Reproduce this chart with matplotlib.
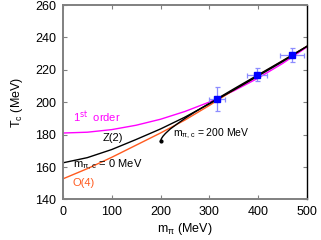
import matplotlib
matplotlib.use("Agg")
import matplotlib.pyplot as plt

plt.rcParams['font.family'] = ['Liberation Sans', 'DejaVu Sans']
plt.rcParams['mathtext.default'] = 'regular'

# lattice points: pion mass, Tc and their errors (MeV)
m_pi = [316, 398, 470]
tc = [202.0, 217.0, 229.0]
m_err = [17, 20, 25]
tc_err = [7.3, 4.0, 4.3]

# fit curves
m_grid = [0, 50, 100, 150, 200, 250, 300, 350, 400, 450, 500]
tc_first = [181.0, 181.5, 183.1, 185.8, 189.5, 194.3, 200.1, 207.0, 214.9, 223.9, 234.0]
tc_z2 = [162.6, 165.8, 170.8, 177.0, 183.5, 190.8, 199.0, 207.5, 216.2, 225.0, 234.5]
tc_o4 = [152.7, 159.0, 166.0, 173.5, 181.0, 189.0, 198.0, 207.5, 216.5, 225.5, 234.5]

m_c200 = [200, 202, 205, 210, 220, 235, 250, 270, 300, 350, 400, 450, 500]
tc_c200 = [176.0, 177.6, 179.0, 180.7, 183.5, 186.8, 190.0, 193.9, 199.3, 208.2, 216.9, 225.6, 234.5]

fig = plt.figure(figsize=(3.21, 2.40), dpi=100)
ax = fig.add_axes([0.196, 0.169, 0.760, 0.810])

ax.plot(m_grid, tc_first, color='#ff00ff', lw=1.0)
ax.plot(m_grid, tc_o4, color='#ff5a1e', lw=1.0)
ax.plot(m_grid, tc_z2, color='black', lw=1.0)
ax.plot(m_c200, tc_c200, color='black', lw=1.0)
ax.plot(m_c200[0], tc_c200[0], 'o', color='black', ms=2)

ax.errorbar(m_pi, tc, xerr=m_err, yerr=tc_err, fmt='none',
            ecolor='#8c8cff', elinewidth=0.9, capsize=1.8, capthick=0.9, zorder=4)
ax.plot(m_pi, tc, 's', color='#0000ff', ms=4.3, zorder=5)

ax.text(20, 187.6, r'1$^{\rm st}$  order', color='#ff00ff', fontsize=8)
ax.text(82, 175.9, 'Z(2)', color='black', fontsize=8)
ax.text(20, 159.9, r'm$_{\pi,c}$ = 0 MeV', color='black', fontsize=8)
ax.text(20, 148.0, 'O(4)', color='#ff5a1e', fontsize=8)
ax.text(226, 179.0, r'm$_{\pi,c}$ = 200 MeV', color='black', fontsize=7.5)

ax.set_xlim(0, 500)
ax.set_ylim(140, 260)
ax.set_xticks(range(0, 501, 100))
ax.set_yticks(range(140, 261, 20))
ax.tick_params(direction='in', length=3, width=0.8, color='#808080',
               top=True, right=True, labelsize=9, pad=5)
ax.set_xlabel(r'm$_{\pi}$ (MeV)', fontsize=9, labelpad=2)
ax.set_ylabel(r'T$_c$ (MeV)', fontsize=9, labelpad=7)

for side in ['left', 'bottom', 'top']:
    ax.spines[side].set_color('#808080')
    ax.spines[side].set_linewidth(1.4)
ax.spines['right'].set_color('black')
ax.spines['right'].set_linewidth(1.0)

fig.savefig('out.png', dpi=100)
